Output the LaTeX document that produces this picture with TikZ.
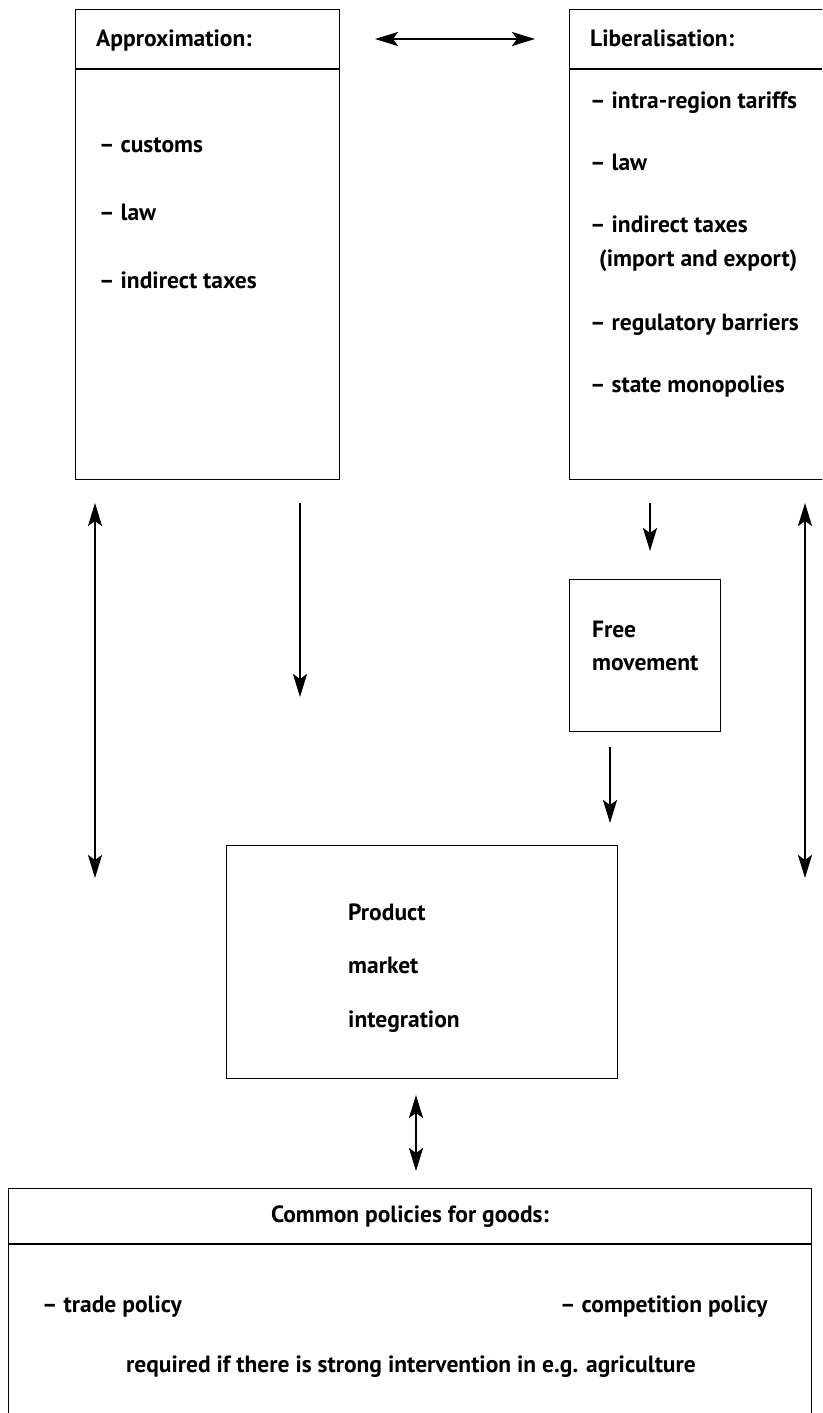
\documentclass[tikz,border=0pt]{standalone}
\usepackage{fontspec}
\setmainfont{PT Sans}
\usetikzlibrary{arrows.meta}
\tikzset{
  box/.style={draw, line width=1.2pt, rectangle, anchor=north west, inner sep=0pt},
  lbl/.style={anchor=base west, inner sep=0pt, font=\fontsize{23.5}{28}\selectfont\bfseries},
  clbl/.style={anchor=base, inner sep=0pt, font=\fontsize{23.5}{28}\selectfont\bfseries},
  tip/.tip={Stealth[length=23pt,width=14pt,inset=5pt]},
  conn/.style={line width=2.4pt, -tip},
  dconn/.style={line width=2.4pt, tip-tip},
  divline/.style={line width=1.2pt}
}
\begin{document}
\begin{tikzpicture}[x=1pt,y=-1pt]
\useasboundingbox (0,0) rectangle (822,1413);
\clip (0,0) rectangle (822,1413);
% Approximation box
\node[box, minimum width=264pt, minimum height=470pt] (appr) at (75,9) {};
\draw[divline] (75,69) -- (339,69);
\node[lbl] (apprh) at (96,47) {Approximation:};
\node[lbl] (a1) at (99,152) {– customs};
\node[lbl] (a2) at (99,220) {– law};
\node[lbl] (a3) at (99,288) {– indirect taxes};
% Liberalisation box
\node[box, minimum width=280pt, minimum height=470pt] (lib) at (569,9) {};
\draw[divline] (569,69) -- (822,69);
\node[lbl] (libh) at (590,47) {Liberalisation:};
\node[lbl] (l1) at (590,108) {– intra-region tariffs};
\node[lbl] (l2) at (590,170) {– law};
\node[lbl] (l3) at (590,232) {– indirect taxes};
\node[lbl] (l3b) at (599,266) {(import and export)};
\node[lbl] (l4) at (590,330) {– regulatory barriers};
\node[lbl] (l5) at (590,392) {– state monopolies};
% top double arrow
\coordinate (t1) at (375,39);
\coordinate (t2) at (535,39);
\draw[dconn] (t1) -- (t2);
% Free movement box
\node[box, minimum width=151pt, minimum height=152pt] (free) at (569,579) {};
\node[lbl] (f1) at (592,637) {Free};
\node[lbl] (f2) at (592,670) {movement};
% Product market integration
\node[box, minimum width=391pt, minimum height=233pt] (prod) at (226,845) {};
\node[lbl] (p1) at (348,920) {Product};
\node[lbl] (p2) at (348,973) {market};
\node[lbl] (p3) at (348,1027) {integration};
% Common policies box
\node[box, minimum width=803pt, minimum height=300pt] (common) at (8,1188) {};
\draw[divline] (8,1244) -- (811,1244);
\node[clbl] (ch) at (410,1222) {Common policies for goods:};
\node[lbl] (c1) at (42,1312) {– trade policy};
\node[lbl] (c2) at (560,1312) {– competition policy};
\node[clbl] (c3) at (411,1372) {required if there is strong intervention in e.g. agriculture};
% vertical arrows
\coordinate (la1) at (95,503);
\coordinate (la2) at (95,878);
\draw[dconn] (la1) -- (la2);
\coordinate (ma1) at (300,503);
\coordinate (ma2) at (300,697);
\draw[conn] (ma1) -- (ma2);
\coordinate (sa1) at (650,503);
\coordinate (sa2) at (650,551);
\draw[conn] (sa1) -- (sa2);
\coordinate (fa1) at (610,747);
\coordinate (fa2) at (610,823);
\draw[conn] (fa1) -- (fa2);
\coordinate (ra1) at (805,503);
\coordinate (ra2) at (805,878);
\draw[dconn] (ra1) -- (ra2);
\coordinate (ba1) at (416,1095);
\coordinate (ba2) at (416,1171);
\draw[dconn] (ba1) -- (ba2);
\end{tikzpicture}
\end{document}
